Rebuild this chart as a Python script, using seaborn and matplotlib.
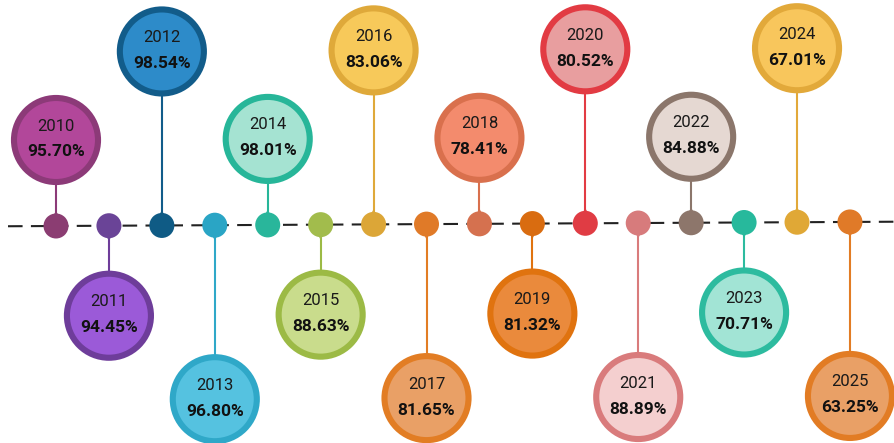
"""
Timeline bubble chart: yearly rate 2010-2025
"""
import matplotlib
matplotlib.use("Agg")
import matplotlib.pyplot as plt
import numpy as np
import pandas as pd
import seaborn as sns

# data
years = [2010, 2011, 2012, 2013, 2014, 2015, 2016, 2017,
         2018, 2019, 2020, 2021, 2022, 2023, 2024, 2025]
rates = [95.70, 94.45, 98.54, 96.80, 98.01, 88.63, 83.06, 81.65,
         78.41, 81.32, 80.52, 88.89, 84.88, 70.71, 67.01, 63.25]

# styling per year: ring colour, bubble fill, dot on the line
ring_colors = ["#8c3a78", "#6e3d9a", "#125c8a", "#2fa8c8", "#27b699", "#9cba45",
               "#dfa93a", "#e27d24", "#d9704d", "#e0730f", "#e23b43", "#d97b7c",
               "#8b766b", "#2dbb9f", "#e2a93a", "#e27c24"]
fill_colors = ["#b2479a", "#9b5ad8", "#2d8bc9", "#55c2e0", "#a5e3d2", "#c9dc8c",
               "#f7c95a", "#e9a066", "#f38b6d", "#ea8a3c", "#e89e9f", "#f4cfcf",
               "#e5d8d2", "#a2e4d5", "#f8c65c", "#e9a066"]
dot_colors = ["#8b3d72", "#6a4497", "#0f5b85", "#2aa5c5", "#29b69b", "#a2bc4c",
              "#dca637", "#e07a28", "#d5714f", "#d96c10", "#e03c44", "#d77b7c",
              "#8d766b", "#27b99c", "#e0a836", "#e07a28"]

# layout (pixels, y grows downward): bubble offset from the timeline
LINE_Y = 226.0
TILT = -0.27            # the whole picture drifts up a little to the right
LEVEL_OFFSETS = [-86, 90, -174, 174]   # up-short, down-short, up-tall, down-tall
W, H = 895, 443
PX_PER_YEAR = 52.93

df = pd.DataFrame({"year": years, "rate": rates})
df["base"] = LINE_Y + TILT * (df["year"] - years[0])
df["bubble_y"] = df["base"] + [LEVEL_OFFSETS[i % 4] for i in range(len(df))]
df["up"] = df["bubble_y"] < df["base"]

sns.set_theme(style="white")
plt.rcParams["font.family"] = ["Roboto", "DejaVu Sans"]

fig = plt.figure(figsize=(W / 100, H / 100), dpi=100)
ax = fig.add_axes([0, 0, 1, 1])
x0 = years[0] - 56 / PX_PER_YEAR
ax.set_xlim(x0, x0 + W / PX_PER_YEAR)
ax.set_ylim(H, 0)
ax.axis("off")

# dashed timeline
line_x = np.array([x0 + 8 / PX_PER_YEAR, x0 + W / PX_PER_YEAR])
ax.plot(line_x, LINE_Y + TILT * (line_x - years[0]), color="#222222",
        lw=1.5, dashes=(7, 4), zorder=1)

# stems
for i, r in df.iterrows():
    ax.plot([r["year"], r["year"]], [r["base"], r["bubble_y"]],
            color=ring_colors[i], lw=1.5, zorder=2, solid_capstyle="butt")

# little pin tips where the stem leaves the dot
up = df[df["up"]]
down = df[~df["up"]]
ax.scatter(up["year"], up["base"] - 11, s=40, marker="^", linewidths=0,
           c=[dot_colors[i] for i in up.index], zorder=3)
ax.scatter(down["year"], down["base"] + 11, s=40, marker="v", linewidths=0,
           c=[dot_colors[i] for i in down.index], zorder=3)

# dots on the line
sns.scatterplot(data=df, x="year", y="base", hue="year", palette=dot_colors,
                s=324, linewidth=0, legend=False, ax=ax, zorder=4)

# bubbles
ax.scatter(df["year"], df["bubble_y"], s=3660, c=fill_colors,
           edgecolors=ring_colors, linewidths=4.4, zorder=5)

for i, r in df.iterrows():
    ax.text(r["year"], r["bubble_y"] - 14, f"{int(r['year'])}",
            ha="center", va="center", fontsize=12, color="#1a1a1a", zorder=6)
    ax.text(r["year"], r["bubble_y"] + 12, f"{r['rate']:.2f}%",
            ha="center", va="center", fontsize=12.5, fontweight="bold",
            color="#111111", zorder=6)

fig.savefig("out.png", dpi=100, facecolor="white")
